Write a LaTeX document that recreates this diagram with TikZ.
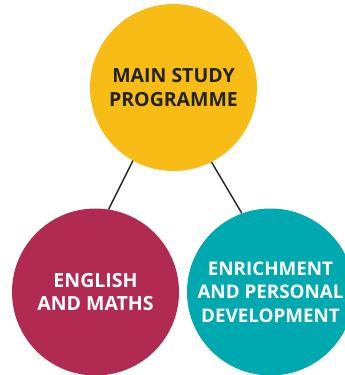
\documentclass[tikz,border=0pt]{standalone}
\usepackage{fontspec}
\setmainfont{Open Sans}
\definecolor{cyellow}{HTML}{F7BC16}
\definecolor{cmagenta}{HTML}{B02A52}
\definecolor{cteal}{HTML}{00A8B0}
\definecolor{ctext}{HTML}{222222}
\begin{document}
\begin{tikzpicture}[x=1pt,y=-1pt,
  bubble/.style={circle, minimum size=167pt, inner sep=0pt, align=center,
    font=\fontsize{19.5}{23.5}\selectfont\bfseries},
  link/.style={draw=ctext, line width=1.4pt}]
\useasboundingbox (0,0) rectangle (345,375);
\node[bubble, fill=cyellow, text=ctext] (top) at (173.5,87.5) {MAIN STUDY\\PROGRAMME};
\node[bubble, fill=cmagenta, text=white] (left) at (95.5,292) {ENGLISH\\AND MATHS};
\node[bubble, fill=cteal, text=white, font=\fontsize{18.8}{23.5}\selectfont\bfseries] (right) at (270.5,292) {ENRICHMENT\\AND PERSONAL\\DEVELOPMENT};
\draw[link] (top.241.7) -- (left.81);
\draw[link] (top.297.6) -- (right.110.4);
\end{tikzpicture}
\end{document}
